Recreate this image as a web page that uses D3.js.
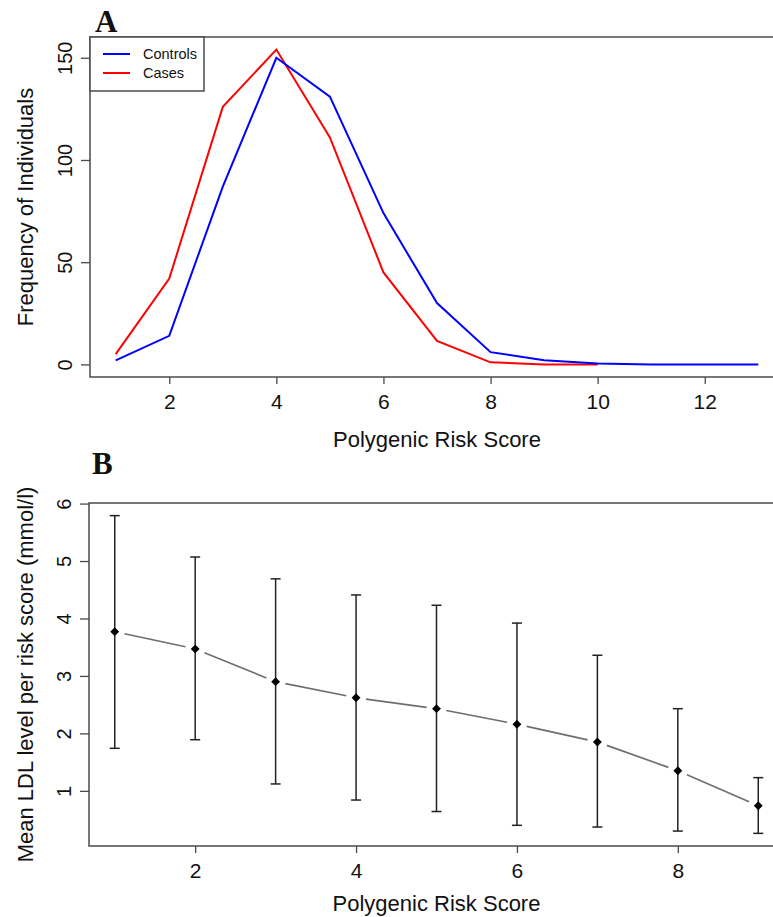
<!DOCTYPE html>
<html>
<head>
<meta charset="utf-8">
<script src="https://cdn.jsdelivr.net/npm/d3@7"></script>
<style>
  html, body { margin: 0; padding: 0; background: #fff; }
  svg { display: block; }
  text { font-family: "Liberation Sans", Arial, sans-serif; fill: #111; }
</style>
</head>
<body>
<svg id="chart" width="773" height="917"></svg>
<script>
// ---------- Panel A data ----------
const scoreA = [1, 2, 3, 4, 5, 6, 7, 8, 9, 10, 11, 12, 13];
const controls = [2, 14, 87, 150, 131, 74, 30, 6, 2, 0.5, 0, 0, 0];
const scoreCases = [1, 2, 3, 4, 5, 6, 7, 8, 9, 10];
const cases = [5, 42, 126, 154, 111, 45, 11.5, 1, 0, 0];
const xTicksA = [2, 4, 6, 8, 10, 12];
const yTicksA = [0, 50, 100, 150];
const legendLabels = ["Controls", "Cases"];
const legendColors = ["#0000ff", "#ff0000"];

// ---------- Panel B data ----------
const scoreB = [1, 2, 3, 4, 5, 6, 7, 8, 9];
const meanLDL = [3.77, 3.47, 2.90, 2.62, 2.43, 2.16, 1.85, 1.35, 0.74];
const upperLDL = [5.79, 5.07, 4.69, 4.41, 4.23, 3.92, 3.36, 2.43, 1.23];
const lowerLDL = [1.74, 1.89, 1.12, 0.84, 0.64, 0.40, 0.37, 0.30, 0.26];
const xTicksB = [2, 4, 6, 8];
const yTicksB = [1, 2, 3, 4, 5, 6];

const svg = d3.select("#chart");
const axisColor = "#4a4a4a";
const xTickFont = 21;
const yTickFont = 20;
const titleFont = 22;

// ================= PANEL A =================
const xA = d3.scaleLinear().domain([0.52, 13.48]).range([90, 784]);
const yA = d3.scaleLinear().domain([-6.16, 160.16]).range([377, 37]);

svg.append("defs").append("clipPath").attr("id", "clipA")
  .append("rect").attr("x", xA.range()[0]).attr("y", yA.range()[1])
  .attr("width", xA.range()[1] - xA.range()[0]).attr("height", yA.range()[0] - yA.range()[1]);

const gA = svg.append("g");

// x axis
const axA = gA.append("g").attr("transform", `translate(0,${yA.range()[0]})`)
  .call(d3.axisBottom(xA).tickValues(xTicksA).tickSize(7).tickPadding(5).tickFormat(d3.format("d")));
axA.select(".domain").remove();
axA.selectAll(".tick line").attr("stroke", axisColor).attr("stroke-width", 1.3);
axA.selectAll(".tick text").attr("font-size", xTickFont).attr("font-family", "Liberation Sans, Arial, sans-serif").attr("fill", "#111").attr("dy", "0.95em");

// y axis
const ayA = gA.append("g").attr("transform", `translate(${xA.range()[0]},0)`)
  .call(d3.axisLeft(yA).tickValues(yTicksA).tickSize(9).tickFormat(d3.format("d")));
ayA.select(".domain").remove();
ayA.selectAll(".tick line").attr("stroke", axisColor).attr("stroke-width", 1.3);
ayA.selectAll(".tick text")
  .attr("font-size", yTickFont).attr("font-family", "Liberation Sans, Arial, sans-serif").attr("fill", "#111")
  .attr("text-anchor", "middle").attr("x", null).attr("dy", null)
  .attr("transform", "translate(-18,0) rotate(-90)");

// frame
gA.append("rect")
  .attr("x", xA.range()[0]).attr("y", yA.range()[1])
  .attr("width", xA.range()[1] - xA.range()[0]).attr("height", yA.range()[0] - yA.range()[1])
  .attr("fill", "none").attr("stroke", axisColor).attr("stroke-width", 1.5);

// lines
const lineA = d3.line().x(d => xA(d[0])).y(d => yA(d[1]));
gA.append("path").datum(scoreCases.map((s, i) => [s, cases[i]]))
  .attr("d", lineA).attr("fill", "none").attr("stroke", legendColors[1]).attr("stroke-width", 2)
  .attr("clip-path", "url(#clipA)");
gA.append("path").datum(scoreA.map((s, i) => [s, controls[i]]))
  .attr("d", lineA).attr("fill", "none").attr("stroke", legendColors[0]).attr("stroke-width", 2)
  .attr("clip-path", "url(#clipA)");

// legend
const lg = gA.append("g").attr("transform", `translate(${xA.range()[0]},${yA.range()[1]})`);
lg.append("rect").attr("x", 0).attr("y", 0).attr("width", 114).attr("height", 54)
  .attr("fill", "#fff").attr("stroke", axisColor).attr("stroke-width", 1.5);
legendLabels.forEach((lab, i) => {
  const yy = 17 + i * 19;
  lg.append("line").attr("x1", 13).attr("x2", 40).attr("y1", yy).attr("y2", yy)
    .attr("stroke", legendColors[i]).attr("stroke-width", 2);
  lg.append("text").attr("x", 53).attr("y", yy + 5).attr("font-size", 14.5).text(lab);
});

// titles
gA.append("text").attr("x", (xA.range()[0] + xA.range()[1]) / 2).attr("y", 447)
  .attr("text-anchor", "middle").attr("font-size", titleFont).text("Polygenic Risk Score");
gA.append("text").attr("transform", `translate(33,${(yA.range()[0] + yA.range()[1]) / 2}) rotate(-90)`)
  .attr("text-anchor", "middle").attr("font-size", titleFont).text("Frequency of Individuals");
gA.append("text").attr("x", 95).attr("y", 32)
  .attr("font-weight", "bold").attr("font-size", 31)
  .style("font-family", "'Liberation Serif', 'Times New Roman', serif").text("A");

// ================= PANEL B =================
const xB = d3.scaleLinear().domain([0.68, 9.32]).range([89, 784]);
const yB = d3.scaleLinear().domain([0.04, 6.01]).range([846, 503]);

const gB = svg.append("g");

const axB = gB.append("g").attr("transform", `translate(0,${yB.range()[0]})`)
  .call(d3.axisBottom(xB).tickValues(xTicksB).tickSize(7).tickPadding(5).tickFormat(d3.format("d")));
axB.select(".domain").remove();
axB.selectAll(".tick line").attr("stroke", axisColor).attr("stroke-width", 1.3);
axB.selectAll(".tick text").attr("font-size", xTickFont).attr("font-family", "Liberation Sans, Arial, sans-serif").attr("fill", "#111").attr("dy", "0.95em");

const ayB = gB.append("g").attr("transform", `translate(${xB.range()[0]},0)`)
  .call(d3.axisLeft(yB).tickValues(yTicksB).tickSize(9).tickFormat(d3.format("d")));
ayB.select(".domain").remove();
ayB.selectAll(".tick line").attr("stroke", axisColor).attr("stroke-width", 1.3);
ayB.selectAll(".tick text")
  .attr("font-size", yTickFont).attr("font-family", "Liberation Sans, Arial, sans-serif").attr("fill", "#111")
  .attr("text-anchor", "middle").attr("x", null).attr("dy", null)
  .attr("transform", "translate(-18,0) rotate(-90)");

gB.append("rect")
  .attr("x", xB.range()[0]).attr("y", yB.range()[1])
  .attr("width", xB.range()[1] - xB.range()[0]).attr("height", yB.range()[0] - yB.range()[1])
  .attr("fill", "none").attr("stroke", axisColor).attr("stroke-width", 1.5);

// connecting line with gaps around points (type = "b")
const gap = 10;
for (let i = 0; i < scoreB.length - 1; i++) {
  const x1 = xB(scoreB[i]), y1 = yB(meanLDL[i]);
  const x2 = xB(scoreB[i + 1]), y2 = yB(meanLDL[i + 1]);
  const dx = x2 - x1, dy = y2 - y1, len = Math.hypot(dx, dy);
  const ux = dx / len, uy = dy / len;
  gB.append("line")
    .attr("x1", x1 + ux * gap).attr("y1", y1 + uy * gap)
    .attr("x2", x2 - ux * gap).attr("y2", y2 - uy * gap)
    .attr("stroke", "#6e6e6e").attr("stroke-width", 1.6);
}

// error bars
const capW = 5;
scoreB.forEach((s, i) => {
  const cx = xB(s);
  gB.append("line").attr("x1", cx).attr("x2", cx).attr("y1", yB(upperLDL[i])).attr("y2", yB(lowerLDL[i]))
    .attr("stroke", "#222").attr("stroke-width", 1.5);
  [upperLDL[i], lowerLDL[i]].forEach(v => {
    gB.append("line").attr("x1", cx - capW).attr("x2", cx + capW).attr("y1", yB(v)).attr("y2", yB(v))
      .attr("stroke", "#222").attr("stroke-width", 1.5);
  });
});

// points (filled diamonds)
gB.selectAll("path.pt").data(scoreB.map((s, i) => [s, meanLDL[i]])).enter()
  .append("path").attr("class", "pt")
  .attr("d", d3.symbol().type(d3.symbolDiamond2).size(50))
  .attr("transform", d => `translate(${xB(d[0])},${yB(d[1])})`)
  .attr("fill", "#000");

// titles
gB.append("text").attr("x", (xB.range()[0] + xB.range()[1]) / 2).attr("y", 911)
  .attr("text-anchor", "middle").attr("font-size", titleFont).text("Polygenic Risk Score");
gB.append("text").attr("transform", `translate(33,${(yB.range()[0] + yB.range()[1]) / 2}) rotate(-90)`)
  .attr("text-anchor", "middle").attr("font-size", titleFont).text("Mean LDL level per risk score (mmol/l)");
gB.append("text").attr("x", 92).attr("y", 474)
  .attr("font-weight", "bold").attr("font-size", 31)
  .style("font-family", "'Liberation Serif', 'Times New Roman', serif").text("B");
</script>
</body>
</html>
